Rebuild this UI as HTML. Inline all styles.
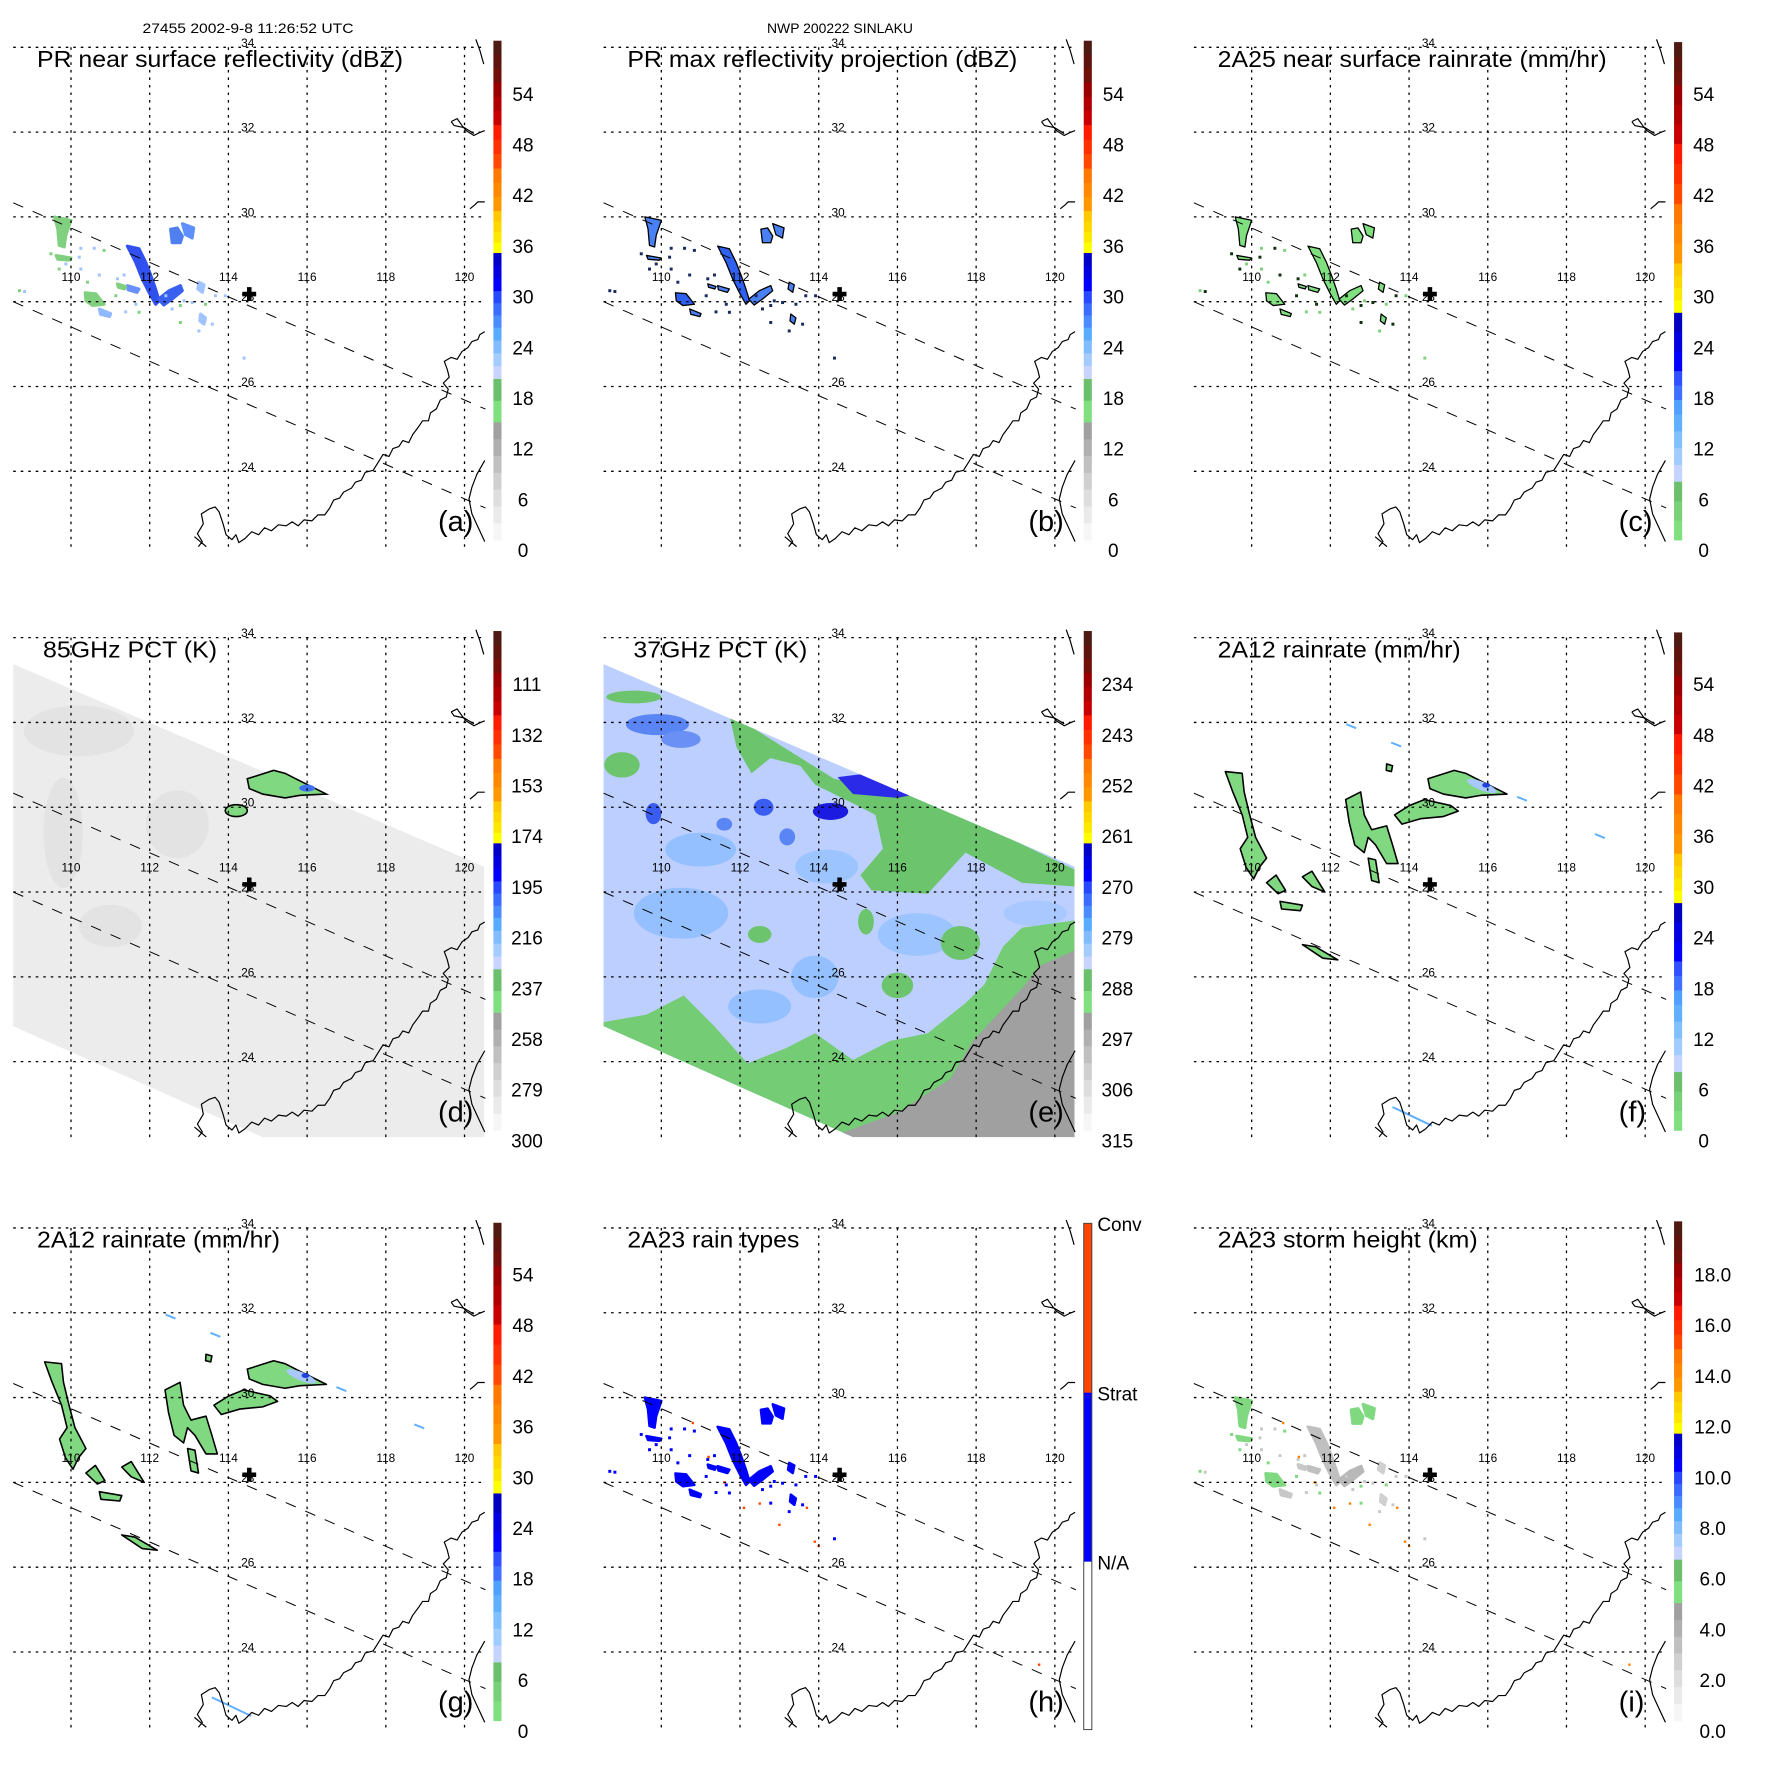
<!DOCTYPE html>
<html>
<head>
<meta charset="utf-8">
<style>
html,body{margin:0;padding:0;background:#fff}
svg{display:block}
text{font-family:"Liberation Sans",Arial,sans-serif;fill:#000}
</style>
</head>
<body>
<svg id="fig" width="1771" height="1771" viewBox="0 0 1771 1771" xmlns="http://www.w3.org/2000/svg">
<rect x="0" y="0" width="1771" height="1771" fill="#ffffff"/>
<text x="248" y="33" font-size="14" text-anchor="middle" textLength="211" lengthAdjust="spacingAndGlyphs">27455 2002-9-8 11:26:52 UTC</text>
<text x="840" y="33" font-size="14" text-anchor="middle" textLength="146" lengthAdjust="spacingAndGlyphs">NWP 200222 SINLAKU</text>
</svg>
<script>
const NS='http://www.w3.org/2000/svg';
const svg=document.getElementById('fig');
const P=590.33;

/* ---------- axis data ---------- */
const lonTicks=[110,112,114,116,118,120];
const latTicks=[34,32,30,28,26,24];
const starLon=114.53, starLat=28.18;

/* ---------- colorbar tick labels ---------- */
const dbzTicks=[0,6,12,18,24,30,36,42,48,54];
const rainTicks=[0,6,12,18,24,30,36,42,48,54];
const pct85Ticks=[300,279,258,237,216,195,174,153,132,111];
const pct37Ticks=[315,306,297,288,279,270,261,252,243,234];
const heightTicks=[0,2,4,6,8,10,12,14,16,18];
const typeLabels=['Conv','Strat','N/A'];

/* ---------- TMI swath ---------- */
const swathLon=[108.52,120.5,120.5,114.87,108.52];
const swathLat=[33.38,28.6,22.22,22.22,24.84];

/* ---------- PR rain cell shapes ---------- */
const prLon=[
 [109.58,110.0,109.87,109.83,109.7,109.66],
 [111.43,111.73,111.9,112.03,112.15,112.24,112.15,111.98,111.81,111.64],
 [112.22,112.49,112.78,112.83,112.57,112.36],
 [112.53,112.7,112.83,112.78,112.57],
 [112.83,113.12,113.08,112.91],
 [110.36,110.63,110.84,110.55,110.38],
 [109.62,110.0,109.95,109.66],
 [110.72,111.01,110.98,110.75],
 [113.25,113.38,113.34,113.22],
 [111.43,111.73,111.68,111.45],
 [113.29,113.42,113.38,113.27],
 [111.18,111.39,111.36,111.2]
];
const prLat=[
 [30.0,29.92,29.56,29.29,29.33,29.72],
 [29.31,29.25,28.93,28.62,28.3,28.02,27.94,28.22,28.54,28.93],
 [28.06,28.26,28.38,28.26,28.06,27.92],
 [29.71,29.74,29.55,29.39,29.39],
 [29.84,29.74,29.5,29.58],
 [28.21,28.19,27.94,27.91,28.02],
 [29.09,29.03,28.98,29.0],
 [27.83,27.72,27.65,27.7],
 [28.46,28.4,28.22,28.3],
 [28.38,28.3,28.22,28.28],
 [27.71,27.62,27.47,27.55],
 [28.42,28.36,28.3,28.34]
];
const prColorsA=['#80d080','#3050f0','#3a60f0','#5080f0','#6090ff','#80d080','#80d080','#90b8ff','#a0c4ff','#6a90ff','#a0c4ff','#80d080'];
const prColorsI=['#80d880','#c0c0c0','#b8b8b8','#80d880','#80d880','#80d880','#80d880','#c8c8c8','#d0d0d0','#c0c0c0','#d0d0d0','#c8c8c8'];
const dotLon=[109.49,110.25,110.59,110.84,110.21,109.87,109.7,110.25,110.72,110.42,111.18,111.35,111.14,111.39,111.65,111.73,112.41,112.57,112.78,112.87,113.08,113.42,113.67,113.92,112.78,113.25,113.59,108.69,108.82,114.4];
const dotLat=[29.13,29.26,29.26,29.21,29.05,28.89,28.77,28.77,28.63,28.46,28.54,28.63,28.14,27.76,27.94,27.75,28.14,27.83,27.91,28.02,27.98,27.94,28.14,28.14,27.51,27.31,27.47,28.26,28.24,26.67];
const convLon=[110.8,111.2,112.1,112.5,113.0,113.7,113.9,111.6,114.0,119.6];
const convLat=[29.4,28.6,27.4,27.5,27.0,27.4,26.6,28.0,26.5,23.7];

/* ---------- 2A12 blobs (panels f, g) ---------- */
const blobLon=[
 [109.33,109.76,109.81,109.95,110.1,110.38,110.19,110.05,109.86,109.71,109.9,109.76,109.52],
 [112.39,112.77,112.86,113.05,113.43,113.58,113.72,113.43,113.15,112.96,112.86,112.62,112.48],
 [113.63,114.01,114.39,115.06,115.25,114.87,114.29,113.82],
 [114.48,115.15,115.44,115.82,116.49,115.82,115.44,114.87,114.53],
 [110.38,110.62,110.86,110.67],
 [111.29,111.53,111.86,111.53],
 [110.72,111.29,111.24,110.76],
 [111.29,111.62,112.19,111.81],
 [112.96,113.15,113.24,113.05],
 [113.43,113.58,113.55,113.42]
];
const blobLat=[
 [30.84,30.8,30.36,29.82,29.29,28.8,28.58,28.31,28.58,29.02,29.29,29.82,30.36],
 [30.18,30.36,29.82,29.47,29.56,29.11,28.67,28.67,29.11,29.29,28.93,29.11,29.64],
 [29.82,30.04,30.18,30.04,29.91,29.78,29.73,29.6],
 [30.67,30.87,30.8,30.62,30.31,30.28,30.22,30.31,30.44],
 [28.22,28.4,28.04,27.96],
 [28.36,28.49,28.0,28.13],
 [27.78,27.69,27.56,27.6],
 [26.76,26.71,26.4,26.44],
 [28.8,28.76,28.22,28.27],
 [31.02,30.98,30.84,30.87]
];
const speckLon=[112.53,113.67,116.87,118.85];
const speckLat=[31.91,31.48,30.2,29.32];

/* ---------- 37GHz regions (panel e) ---------- */
const greenUpLon=[111.72,114.39,116.49,120.5,120.5,119.16,117.73,116.77,115.34,115.06,115.63,115.44,114.87,113.91,113.53,112.77,112.29,111.91];
const greenUpLat=[32.22,30.67,30.31,28.53,28.13,28.22,28.93,27.96,28.04,28.4,29.02,29.82,30.09,30.53,30.98,31.16,30.8,31.42];
const greenLowLon=[108.52,109.62,110.57,111.34,112.19,113.15,113.91,114.87,115.82,116.77,117.73,118.21,118.68,119.16,120.5,120.5,114.87,108.52];
const greenLowLat=[24.93,25.11,25.56,24.84,23.96,24.31,24.67,24.04,24.49,24.67,25.38,25.82,26.71,27.16,27.33,22.22,22.22,24.84];
const greyLandLon=[114.29,116.01,117.35,117.92,119.16,119.64,120.5,120.5];
const greyLandLat=[22.22,22.8,23.6,24.49,25.73,26.27,26.62,22.22];
const patchLon=[110.5,113.9,112.5,116.5,111.0,114.2,119.5,109.9,110.5,109.8,112.6,111.6,113.2,114.3,117.6,116.0,112.5,115.2,109.0,109.3,118.8,117.0];
const patchLat=[27.5,26.0,25.3,27.0,29.0,28.6,27.5,31.95,31.6,29.85,30.0,29.6,29.3,29.9,26.8,25.8,27.0,27.3,31.0,32.6,23.4,23.0];
const patchRx=[1.2,0.6,0.8,1.0,0.9,0.8,0.8,0.8,0.5,0.2,0.25,0.2,0.2,0.45,0.5,0.4,0.3,0.2,0.45,0.7,0.5,0.4];
const patchRy=[0.6,0.5,0.4,0.5,0.4,0.4,0.3,0.25,0.2,0.25,0.2,0.15,0.2,0.2,0.4,0.3,0.2,0.3,0.3,0.15,0.4,0.3];
const patchCol=['#94c0ff','#94c0ff','#94c0ff','#9cc4ff','#94c0ff','#9cc4ff','#a8c8ff','#5a86f5','#6a90f5','#3a5cf0','#3a5cf0','#5a86f5','#5a86f5','#1a1ae0','#6cc46c','#6cc46c','#6cc46c','#6cc46c','#6cc46c','#6cc46c','#78d078','#78d078'];
const coreLon=[114.48,115.25,116.49,116.01,114.87];
const coreLat=[30.71,30.8,30.31,30.22,30.31];

/* ---------- 85GHz streaks (panel d) ---------- */
const streakLon=[109.8,112.7,110.2,111.0];
const streakLat=[29.4,29.6,31.8,27.2];
const streakRx=[0.5,0.8,1.4,0.8];
const streakRy=[1.3,0.8,0.6,0.5];

/* ---------- projection (panel-local, pre-transform) ---------- */
function px(lon){return 72+(lon-110)*39.85;}
function py(lat){return 305.8-(lat-28)*42.8;}
function pts(lons,lats){return lons.map((lo,i)=>px(lo).toFixed(1)+','+py(lats[i]).toFixed(1)).join(' ');}

function mk(tag,parent){const e=document.createElementNS(NS,tag);parent.appendChild(e);return e;}
function at(e,o){for(const k in o)e.setAttribute(k,o[k]);return e;}

const coastMain='M201,553 L205,548 L200,540 L206,530 L204,520 L212,515 L218,513 L222,518 L226,530 L229,541 L235,546 L239,541 L242,549 L248,545 L255,538 L262,541 L268,534 L275,537 L282,531 L290,532 L296,528 L302,532 L308,526 L316,527 L322,521 L329,521 L334,514 L338,506 L344,504 L348,498 L356,494 L360,488 L366,486 L370,478 L378,476 L383,468 L388,460 L394,462 L398,454 L404,452 L408,446 L414,448 L418,440 L424,432 L428,426 L434,426 L436,418 L442,414 L446,405 L452,402 L454,394 L449,388 L455,382 L453,374 L450,366 L457,362 L463,364 L468,356 L474,352 L478,346 L484,344 L486,339 L491,336 M197,543 L203,548 L209,553 M482,41 L486,52 L490,66 M457,124 L463,121 L468,128 L472,133 L480,138 L486,135 L491,133 M480,136 L470,130 L460,128 L457,124 M476,212 L481,208 L484,205 L491,205 M491,466 L483,480 L478,493 L475,505 L478,520 L484,533 L491,548';

const dbzBar=[[40.6,83,['#4e1a12','#5e140c','#701008']],[83,126,['#9a0000','#b00000','#c80000']],[126,170,['#ff1a00','#ff3000','#ff4800']],[170,213,['#ff7800','#ff8800','#ff9800']],[213,255.5,['#ffc800','#ffd800','#ffe800','#ffff00']],[255.5,294,['#0000c8','#0000e0','#0000ff']],[294,331,['#2848ff','#3c6cff','#4a8cff']],[331,383,['#58acff','#80bcff','#a4ccff','#c8d4ff']],[383,427,['#6cc06c','#80e080']],[427,546,['#a0a0a0','#b0b0b0','#c0c0c0','#d0d0d0','#dedede','#eaeaea','#f6f6f6']]];
const rainBar=[[42,86,['#4e1a12','#5e140c','#701008']],[86,145,['#9a0000','#b00000','#c80000']],[145,206,['#ff1a00','#ff3000','#ff4800']],[206,266,['#ff7800','#ff8800','#ff9800']],[266,316,['#ffc800','#ffd800','#ffe800','#ffff00']],[316,375,['#0000c0','#0000e0','#0000ff']],[375,419,['#3050ff','#4070ff','#50a0ff']],[419,487,['#60b0ff','#80c0ff','#a0ccff','#c4d4ff']],[487,546,['#6cc06c','#78d078','#80e080']]];
const typeBar=[[42.6,214,['#ff4500']],[214,385,['#0000ff']],[385,555,['#ffffff']]];

const panels=[
 {title:'PR near surface reflectivity (dBZ)',tx:37,tw:366,letter:'(a)',bar:dbzBar,ticks:dbzTicks,fmt:v=>String(v),lx:523,kind:'a'},
 {title:'PR max reflectivity projection (dBZ)',tx:37,tw:390,letter:'(b)',bar:dbzBar,ticks:dbzTicks,fmt:v=>String(v),lx:523,kind:'b'},
 {title:'2A25 near surface rainrate (mm/hr)',tx:37,tw:389,letter:'(c)',bar:rainBar,ticks:rainTicks,fmt:v=>String(v),lx:523,kind:'c'},
 {title:'85GHz PCT (K)',tx:43,tw:174,letter:'(d)',bar:dbzBar,ticks:pct85Ticks,fmt:v=>String(v),lx:527,kind:'d'},
 {title:'37GHz PCT (K)',tx:43,tw:174,letter:'(e)',bar:dbzBar,ticks:pct37Ticks,fmt:v=>String(v),lx:527,kind:'e'},
 {title:'2A12 rainrate (mm/hr)',tx:37,tw:243,letter:'(f)',bar:rainBar,ticks:rainTicks,fmt:v=>String(v),lx:523,kind:'f'},
 {title:'2A12 rainrate (mm/hr)',tx:37,tw:243,letter:'(g)',bar:rainBar,ticks:rainTicks,fmt:v=>String(v),lx:523,kind:'f'},
 {title:'2A23 rain types',tx:37,tw:172,letter:'(h)',bar:typeBar,ticks:null,fmt:null,lx:507,kind:'h'},
 {title:'2A23 storm height (km)',tx:37,tw:260,letter:'(i)',bar:dbzBar,ticks:heightTicks,fmt:v=>v.toFixed(1),lx:532,kind:'i'}
];

const defs=mk('defs',svg);
const cp=at(mk('clipPath',defs),{id:'mapclip'});
at(mk('rect',cp),{x:13.5,y:40,width:478.2,height:514.4});
const swc=at(mk('clipPath',defs),{id:'swclip'});
at(mk('polygon',swc),{points:pts(swathLon,swathLat)});

function drawPR(g,kind){
  prLon.forEach((lons,i)=>{
    const p=mk('polygon',g);
    let fill='#000',stroke='none',sw=0;
    if(kind==='a'){fill=prColorsA[i];stroke=prColorsA[i];sw=3;}
    if(kind==='b'){fill=(i===1||i===5)?'#3060f0':'#4a80f5';stroke='#000';sw=1.3;}
    if(kind==='c'){fill='#80e080';stroke='#000';sw=1.3;}
    if(kind==='h'){fill='#0000ff';stroke='#0000ff';sw=2.5;}
    if(kind==='i'){fill=prColorsI[i];stroke=prColorsI[i];sw=3;}
    at(p,{points:pts(lons,prLat[i]),fill:fill,stroke:stroke,'stroke-width':sw,'stroke-linejoin':'round'});
    
    
  });
  dotLon.forEach((lo,i)=>{
    const r=mk('rect',g);
    let c='#000';
    if(kind==='a')c=(i%3===0)?'#80d080':'#a0c4ff';
    if(kind==='b')c='#1a2a60';
    if(kind==='c')c=(i%2===0)?'#103010':'#80d080';
    if(kind==='h')c='#0000ff';
    if(kind==='i')c=(i%3===0)?'#80d880':'#c8c8c8';
    at(r,{x:px(lo)-1.5,y:py(dotLat[i])-1.5,width:3,height:3,fill:c});
    
    
  });
  if(kind==='h'||kind==='i'){
    convLon.forEach((lo,i)=>{
      const r=mk('rect',g);
      at(r,{x:px(lo)-1.2,y:py(convLat[i])-1.2,width:2.4,height:2.4,fill:kind==='h'?'#ff4500':'#ff8000'});
      
      
    });
  }
}

function drawBlobs(g){
  blobLon.forEach((lons,i)=>{
    const p=mk('polygon',g);
    at(p,{points:pts(lons,blobLat[i]),fill:'#80d880',stroke:'#000','stroke-width':1.6,'stroke-linejoin':'round'});
    
    
  });
  const c1=mk('ellipse',g);
  at(c1,{cx:px(115.85),cy:py(30.5),rx:0.4*39.85,ry:0.1*42.8,fill:'#a8c8ff',transform:'rotate(22 '+px(115.85)+' '+py(30.5)+')'});
  
  
  const c2=mk('ellipse',g);
  at(c2,{cx:px(115.96),cy:py(30.52),rx:4,ry:2.5,fill:'#2040e0'});
  
  
  speckLon.forEach((lo,i)=>{
    const s=mk('line',g);
    at(s,{x1:px(lo)-5,y1:py(speckLat[i])-2,x2:px(lo)+5,y2:py(speckLat[i])+2,stroke:'#60b0ff','stroke-width':2});
    
    
  });
  const sl=mk('line',g);
  at(sl,{x1:px(113.58),y1:py(22.93),x2:px(114.58),y2:py(22.49),stroke:'#60b0ff','stroke-width':2});
  
  
}

function drawD(g){
  const s=mk('polygon',g);
  at(s,{points:pts(swathLon,swathLat),fill:'#ececec'});
  
  
  const cg=mk('g',g);
  at(cg,{'clip-path':'url(#swclip)'});
  
  
  streakLon.forEach((lo,i)=>{
    const e=mk('ellipse',cg);
    at(e,{cx:px(lo),cy:py(streakLat[i]),rx:streakRx[i]*39.85,ry:streakRy[i]*42.8,fill:'#dadada',opacity:0.45});
    
    
  });
  const b=mk('polygon',g);
  at(b,{points:pts(blobLon[3],blobLat[3]),fill:'#80d880',stroke:'#000','stroke-width':1.6});
  
  
  const bc=mk('ellipse',g);
  at(bc,{cx:px(116.0),cy:py(30.45),rx:8,ry:3.5,fill:'#4070f0'});
  
  
  const b2=mk('ellipse',g);
  at(b2,{cx:px(114.2),cy:py(29.92),rx:0.28*39.85,ry:0.14*42.8,fill:'#80d880',stroke:'#000','stroke-width':1.6});
  
  
}

function drawE(g){
  const s=mk('polygon',g);
  at(s,{points:pts(swathLon,swathLat),fill:'#bccfff'});
  
  
  const cg=mk('g',g);
  at(cg,{'clip-path':'url(#swclip)'});
  
  
  patchLon.forEach((lo,i)=>{
    const e=mk('ellipse',cg);
    at(e,{cx:px(lo),cy:py(patchLat[i]),rx:patchRx[i]*39.85,ry:patchRy[i]*42.8,fill:patchCol[i]});
    
    
  });
  const gu=mk('polygon',cg);
  at(gu,{points:pts(greenUpLon,greenUpLat),fill:'#6cc46c'});
  
  
  const gl=mk('polygon',cg);
  at(gl,{points:pts(greenLowLon,greenLowLat),fill:'#74cc74'});
  
  
  const gr=mk('polygon',cg);
  at(gr,{points:pts(greyLandLon,greyLandLat),fill:'#a0a0a0'});
  
  
  const core=mk('polygon',cg);
  at(core,{points:pts(coreLon,coreLat),fill:'#2a2ae8'});
  
  
  const y=mk('rect',cg);
  at(y,{x:px(115.92)-3,y:py(30.53)-1.5,width:6,height:3,fill:'#ffff00'});
  
  
}

panels.forEach((pn,idx)=>{
  const c=idx%3, r=Math.floor(idx/3);
  const g=mk('g',svg);
  at(g,{transform:'translate('+(c*P).toFixed(2)+','+(r*P).toFixed(2)+')'});
  
  

  const mg=mk('g',g);
  at(mg,{transform:'matrix(0.9875 0 0 0.9907 -0.1 -1.25)'});
  
  

  const dg=mk('g',mg);
  at(dg,{'clip-path':'url(#mapclip)'});
  
  
  if('abchi'.includes(pn.kind)) drawPR(dg,pn.kind);
  if(pn.kind==='f') drawBlobs(dg);
  if(pn.kind==='d') drawD(dg);
  if(pn.kind==='e') drawE(dg);

  lonTicks.forEach(lo=>{
    const l=mk('line',mg);
    at(l,{x1:px(lo),y1:py(34),x2:px(lo),y2:554.4,stroke:'#000','stroke-width':1.3,'stroke-dasharray':'2.6 5'});
    
    
  });
  latTicks.forEach(la=>{
    const l=mk('line',mg);
    at(l,{x1:13.5,y1:py(la),x2:491.7,y2:py(la),stroke:'#000','stroke-width':1.3,'stroke-dasharray':'2.6 5'});
    
    
  });
  [[206,0.4354],[305.8,0.4354]].forEach((s,k)=>{
    const l=mk('line',mg);
    at(l,{x1:13.5,y1:s[0],x2:491.7,y2:s[0]+s[1]*478.2,stroke:'#000','stroke-width':1,'stroke-dasharray':'11 10.5'});
    
    
  });
  const cst=mk('path',mg);
  at(cst,{d:coastMain,fill:'none',stroke:'#000','stroke-width':1.2,'stroke-linejoin':'round'});
  
  
  latTicks.forEach(la=>{
    const t=mk('text',mg);
    at(t,{x:251,y:py(la)-0.5,'font-size':12,'text-anchor':'middle'});
    t.textContent=String(la);
    
    
  });
  lonTicks.forEach(lo=>{
    const t=mk('text',mg);
    at(t,{x:px(lo),y:285,'font-size':12,'text-anchor':'middle'});
    t.textContent=String(lo);
    
    
  });
  const st=mk('path',mg);
  const sx=px(starLon), sy=py(starLat);
  at(st,{d:'M'+(sx-7)+','+(sy-2.3)+' h14 v4.6 h-14 Z M'+(sx-2.3)+','+(sy-7)+' h4.6 v14 h-4.6 Z',fill:'#000'});
  
  

  const tt=mk('text',g);
  at(tt,{x:pn.tx,y:67,'font-size':23,textLength:pn.tw,lengthAdjust:'spacingAndGlyphs'});
  tt.textContent=pn.title;
  
  
  const lt=mk('text',g);
  at(lt,{x:438,y:531,'font-size':29});
  lt.textContent=pn.letter;
  
  

  const cb=mk('g',g);
  
  
  const cbar=mk('g',cb);
  at(cbar,{transform:'matrix(1 0 0 0.988 -8 0.59)'});
  
  
  pn.bar.forEach(seg=>{
    const n=seg[2].length, h=(seg[1]-seg[0])/n;
    seg[2].forEach((col,k)=>{
      const rr=mk('rect',cbar);
      at(rr,{x:501.4,y:seg[0]+k*h,width:8.1,height:h+0.4,fill:col});
      
      
    });
  });
  if(pn.kind==='h'){
    const ol=mk('rect',cbar);
    at(ol,{x:501.4,y:42.6,width:8.1,height:512.4,fill:'none',stroke:'#444','stroke-width':1});
    
    
    const ly=[50.5,220,389];
    typeLabels.forEach((s,k)=>{
      const t=mk('text',cb);
      at(t,{x:pn.lx,y:ly[k],'font-size':19});
      t.textContent=s;
      
      
    });
  } else {
    pn.ticks.forEach((v,k)=>{
      const t=mk('text',cb);
      at(t,{x:pn.lx,y:550.3-k*50.7+6.8,'font-size':19,'text-anchor':'middle'});
      t.textContent=pn.fmt(v);
      
      
    });
  }
});
</script>
</body>
</html>
